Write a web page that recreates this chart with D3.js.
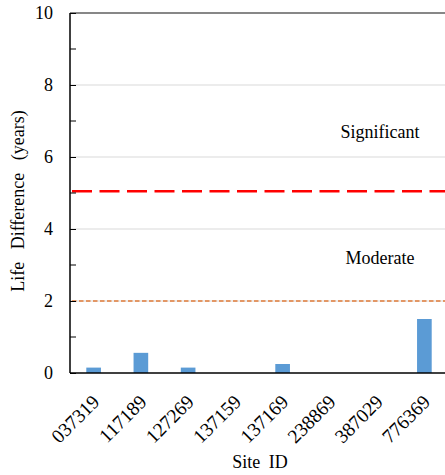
<!DOCTYPE html>
<html>
<head>
<meta charset="utf-8">
<script src="https://cdn.jsdelivr.net/npm/d3@7"></script>
<style>
  html, body { margin: 0; padding: 0; background: #fff; }
  svg { display: block; }
</style>
</head>
<body>
<svg id="chart" width="445" height="475"></svg>
<script>
// Site identifiers and the life difference at each site (years)
const sites = ["037319", "117189", "127269", "137159", "137169", "238869", "387029", "776369"];
const lifeDiff = [0.15, 0.56, 0.15, 0, 0.25, 0, 0, 1.5];

// Threshold lines and their zone labels
const thresholds = [
  { name: "significant", value: 5.05 },
  { name: "moderate", value: 2.0 }
];
const zoneLabels = [
  { text: "Significant", value: 6.53 },
  { text: "Moderate", value: 3.03 }
];

const yTicks = [0, 2, 4, 6, 8, 10];
const yMinorTicks = [1, 3, 5, 7, 9];
const gridValues = [2, 4, 6, 8];

const serif = "'Liberation Serif', 'Times New Roman', Times, Tinos, 'Nimbus Roman', 'Noto Serif', 'DejaVu Serif', serif";

const svg = d3.select("#chart");
const plot = { left: 70, right: 448, top: 13, bottom: 373 };

const x = d3.scaleBand()
  .domain(sites)
  .range([plot.left, plot.right])
  .paddingInner(0.69)
  .paddingOuter(0.345);

const y = d3.scaleLinear().domain([0, 10]).range([plot.bottom, plot.top]);

// Horizontal gridlines
svg.append("g")
  .selectAll("line")
  .data(gridValues)
  .join("line")
  .attr("x1", plot.left).attr("x2", 445)
  .attr("y1", d => y(d)).attr("y2", d => y(d))
  .attr("stroke", "#d9d9d9")
  .attr("stroke-width", 1);

// Bars
svg.append("g")
  .selectAll("rect")
  .data(sites.map((s, i) => ({ site: s, v: lifeDiff[i] })))
  .join("rect")
  .attr("x", d => x(d.site))
  .attr("width", x.bandwidth())
  .attr("y", d => y(d.v))
  .attr("height", d => y(0) - y(d.v))
  .attr("fill", "#5b9bd5");

// Threshold lines
svg.append("line")
  .attr("x1", plot.left + 2).attr("x2", 445)
  .attr("y1", y(thresholds[0].value)).attr("y2", y(thresholds[0].value))
  .attr("stroke", "#ff0000")
  .attr("stroke-width", 2.6)
  .attr("stroke-dasharray", "20,7.5");

svg.append("line")
  .attr("x1", plot.left + 2).attr("x2", 445)
  .attr("y1", y(thresholds[1].value)).attr("y2", y(thresholds[1].value))
  .attr("stroke", "#e07b39")
  .attr("stroke-width", 1.5)
  .attr("stroke-dasharray", "4.5,2.5");

// Zone labels
svg.append("g")
  .selectAll("text")
  .data(zoneLabels)
  .join("text")
  .attr("x", 380)
  .attr("y", d => y(d.value))
  .attr("text-anchor", "middle")
  .style("font-family", serif)
  .style("font-size", "18px")
  .text(d => d.text);

// Y axis with inward ticks
const yAxis = d3.axisLeft(y).tickValues(yTicks).tickSize(-6).tickPadding(17);
const gy = svg.append("g").attr("transform", `translate(${plot.left},0)`).call(yAxis);
gy.select(".domain").remove();
gy.selectAll(".tick line").attr("stroke", "#000").attr("stroke-width", 1);
gy.selectAll(".tick text")
  .style("font-family", serif)
  .style("font-size", "18px")
  .attr("text-anchor", "end");

svg.append("g")
  .selectAll("line")
  .data(yMinorTicks)
  .join("line")
  .attr("x1", plot.left).attr("x2", plot.left + 6)
  .attr("y1", d => y(d)).attr("y2", d => y(d))
  .attr("stroke", "#000").attr("stroke-width", 1);

// Plot frame: left and top edges
svg.append("line")
  .attr("x1", plot.left).attr("x2", plot.left)
  .attr("y1", plot.top).attr("y2", plot.bottom)
  .attr("stroke", "#000").attr("stroke-width", 1.5);
svg.append("line")
  .attr("x1", plot.left).attr("x2", 445)
  .attr("y1", plot.top).attr("y2", plot.top)
  .attr("stroke", "#111").attr("stroke-width", 1.2);

// X axis with slanted site labels
const xAxis = d3.axisBottom(x).tickSize(0).tickPadding(0);
const gx = svg.append("g").attr("transform", `translate(0,${plot.bottom})`).call(xAxis);
gx.select(".domain").remove();
gx.selectAll(".tick text")
  .style("font-family", serif)
  .style("font-size", "19.5px")
  .attr("text-anchor", "end")
  .attr("dy", 0)
  .attr("y", 0)
  .attr("transform", "translate(7,30) rotate(-45)");

svg.append("line")
  .attr("x1", plot.left).attr("x2", 445)
  .attr("y1", plot.bottom).attr("y2", plot.bottom)
  .attr("stroke", "#000").attr("stroke-width", 1.5);

// Axis titles
svg.append("text")
  .attr("x", 260).attr("y", 468)
  .attr("text-anchor", "middle")
  .style("font-family", serif)
  .style("font-size", "18px")
  .attr("word-spacing", 4)
  .text("Site ID");

svg.append("text")
  .attr("transform", "translate(24,201) rotate(-90)")
  .attr("text-anchor", "middle")
  .style("font-family", serif)
  .style("font-size", "18px")
  .attr("word-spacing", 8)
  .text("Life Difference (years)");
</script>
</body>
</html>
